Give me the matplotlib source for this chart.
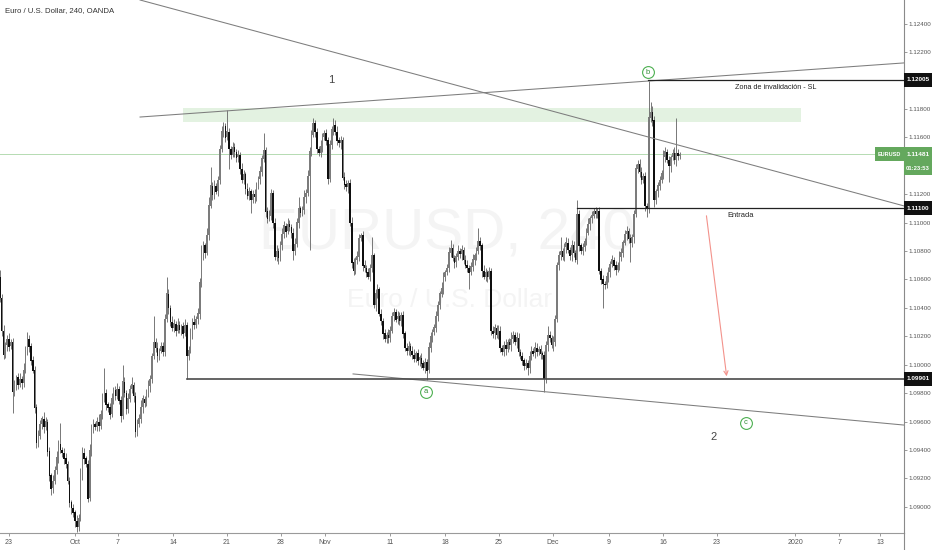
import numpy as np
import matplotlib.pyplot as plt
from matplotlib.patches import Rectangle, FancyArrowPatch

plt.rcParams['font.family'] = ['Liberation Sans', 'DejaVu Sans']

# --- EURUSD 4h velas, en pips sobre 1.08000 ---
BASE = 1.08
FIRST_BAR = -5          # indice de la primera vela (0 = lunes 23 sep)
FIRST_OPEN = 262
CLOSE_PIPS = [
    247, 224, 207, 214, 218, 213, 216, 181, 186, 191,
    186, 190, 187, 196, 210, 218, 213, 203, 196, 170,
    145, 150, 158, 162, 156, 160, 139, 122, 113, 118,
    126, 135, 144, 140, 138, 134, 130, 118, 103, 99,
    96, 90, 86, 92, 122, 138, 134, 130, 106, 140,
    155, 158, 156, 160, 157, 165, 176, 180, 172, 170,
    165, 176, 182, 178, 183, 175, 164, 188, 180, 169,
    176, 183, 186, 178, 153, 158, 162, 170, 176, 173,
    180, 185, 190, 206, 216, 212, 206, 210, 213, 209,
    232, 250, 240, 230, 226, 229, 224, 228, 225, 227,
    222, 228, 206, 210, 222, 230, 228, 232, 236, 258,
    280, 284, 279, 291, 312, 326, 320, 326, 322, 330,
    352, 364, 368, 360, 364, 352, 348, 353, 350, 346,
    348, 338, 330, 334, 324, 319, 322, 316, 320, 318,
    326, 331, 336, 345, 351, 308, 303, 305, 321, 300,
    276, 280, 275, 284, 292, 298, 294, 299, 297, 293,
    280, 285, 300, 310, 307, 309, 318, 321, 333, 350,
    362, 370, 364, 352, 349, 354, 360, 363, 358, 331,
    355, 366, 369, 364, 358, 356, 358, 332, 327, 325,
    328, 300, 272, 266, 274, 276, 289, 291, 270, 268,
    265, 262, 268, 277, 242, 250, 253, 236, 231, 222,
    218, 221, 219, 224, 234, 237, 232, 234, 231, 235,
    222, 212, 210, 213, 210, 207, 204, 208, 203, 205,
    201, 198, 202, 196, 212, 220, 223, 226, 234, 242,
    250, 254, 262, 265, 268, 279, 282, 275, 272, 276,
    280, 278, 281, 274, 270, 268, 265, 269, 274, 277,
    280, 287, 284, 266, 262, 265, 262, 266, 224, 222,
    226, 221, 224, 212, 209, 214, 211, 216, 214, 218,
    221, 216, 219, 209, 206, 203, 199, 201, 198, 206,
    210, 208, 212, 209, 211, 208, 207, 190, 214, 221,
    219, 214, 216, 232, 270, 277, 280, 276, 283, 286,
    281, 277, 284, 279, 274, 306, 284, 280, 283, 287,
    293, 299, 303, 305, 308, 306, 308, 266, 260, 257,
    256, 262, 265, 271, 274, 270, 267, 270, 276, 279,
    286, 292, 294, 289, 286, 290, 306, 338, 341, 336,
    330, 333, 312, 310, 374, 378, 372, 316, 322, 326,
    330, 335, 346, 350, 344, 340, 346, 349, 344, 349, 347, 348,
]
WICK_UP = [
    5, 3, 4, 2, 3, 4, 2, 3, 3, 2,
    3, 4, 2, 5, 3, 5, 3, 2, 3, 3,
    2, 4, 3, 2, 5, 3, 2, 3, 2, 4,
    3, 4, 3, 15, 2, 3, 4, 2, 3, 2,
    3, 2, 4, 3, 5, 4, 3, 2, 3, 4,
    3, 4, 2, 3, 5, 3, 4, 18, 3, 2,
    3, 4, 2, 3, 4, 2, 3, 12, 3, 2,
    4, 3, 5, 2, 3, 4, 3, 5, 3, 2,
    3, 4, 3, 2, 18, 3, 4, 2, 3, 3,
    4, 12, 3, 2, 4, 3, 2, 5, 3, 2,
    3, 4, 2, 3, 4, 3, 5, 2, 4, 3,
    4, 3, 2, 5, 6, 13, 3, 4, 2, 3,
    3, 4, 3, 2, 15, 3, 2, 4, 3, 2,
    3, 2, 4, 3, 2, 4, 3, 2, 3, 4,
    3, 2, 4, 3, 12, 2, 3, 4, 3, 2,
    3, 4, 2, 3, 4, 3, 2, 4, 3, 2,
    3, 4, 3, 8, 2, 3, 5, 3, 4, 3,
    3, 4, 2, 3, 2, 4, 3, 2, 3, 2,
    3, 2, 5, 3, 4, 2, 3, 2, 4, 3,
    2, 3, 4, 3, 2, 4, 3, 2, 3, 4,
    2, 3, 3, 13, 2, 3, 4, 2, 3, 2,
    3, 2, 4, 3, 3, 3, 2, 4, 3, 2,
    3, 2, 3, 4, 2, 3, 4, 2, 3, 2,
    3, 2, 3, 2, 4, 3, 2, 3, 4, 3,
    2, 4, 3, 2, 3, 4, 6, 3, 2, 3,
    4, 2, 3, 2, 3, 4, 2, 3, 4, 2,
    3, 9, 3, 2, 4, 3, 2, 3, 2, 3,
    3, 2, 4, 3, 2, 3, 4, 2, 3, 5,
    3, 2, 4, 3, 2, 3, 2, 3, 2, 4,
    3, 2, 4, 3, 2, 3, 2, 3, 3, 6,
    3, 2, 4, 3, 2, 3, 10, 2, 3, 4,
    3, 2, 4, 3, 2, 10, 3, 2, 3, 2,
    3, 4, 2, 3, 2, 3, 2, 3, 2, 3,
    2, 3, 4, 2, 3, 2, 3, 2, 4, 3,
    2, 3, 4, 2, 3, 2, 3, 3, 3, 4,
    3, 2, 3, 2, 26, 7, 4, 3, 2, 3,
    3, 2, 5, 3, 2, 3, 2, 3, 4, 25, 3, 2,
]
WICK_DN = [
    3, 4, 3, 2, 4, 3, 2, 15, 3, 4,
    3, 2, 4, 3, 2, 3, 4, 3, 2, 4,
    4, 3, 2, 3, 4, 2, 3, 4, 5, 3,
    2, 3, 4, 2, 3, 4, 3, 2, 3, 4,
    3, 4, 4, 3, 2, 3, 4, 2, 3, 2,
    4, 3, 2, 3, 4, 2, 3, 2, 4, 3,
    3, 2, 4, 3, 2, 3, 4, 2, 3, 4,
    3, 2, 3, 4, 4, 3, 2, 3, 4, 3,
    2, 3, 4, 3, 2, 3, 4, 3, 2, 3,
    3, 2, 4, 3, 2, 3, 4, 2, 3, 4,
    3, 2, 16, 3, 2, 4, 3, 2, 3, 4,
    3, 6, 4, 2, 3, 2, 4, 3, 2, 3,
    3, 2, 4, 3, 2, 14, 3, 2, 4, 3,
    3, 4, 2, 3, 4, 2, 3, 9, 2, 4,
    3, 2, 4, 3, 2, 4, 3, 2, 3, 4,
    2, 3, 4, 2, 3, 3, 4, 2, 3, 4,
    6, 3, 2, 4, 3, 2, 3, 4, 2, 52,
    3, 2, 4, 3, 2, 3, 4, 2, 3, 4,
    2, 3, 4, 2, 3, 3, 4, 2, 3, 3,
    4, 2, 4, 3, 2, 3, 3, 2, 4, 3,
    3, 2, 3, 3, 2, 4, 3, 2, 3, 4,
    2, 3, 4, 3, 2, 3, 2, 3, 3, 4,
    3, 2, 3, 3, 4, 3, 2, 2, 3, 4,
    3, 2, 4, 7, 2, 3, 4, 2, 3, 3,
    3, 2, 4, 3, 2, 3, 3, 2, 4, 3,
    2, 3, 4, 3, 2, 3, 12, 2, 3, 4,
    3, 2, 3, 4, 2, 3, 4, 2, 3, 3,
    4, 2, 3, 3, 2, 3, 4, 2, 3, 4,
    3, 2, 4, 3, 2, 3, 3, 2, 5, 4,
    3, 2, 3, 3, 2, 4, 3, 9, 3, 4,
    3, 2, 4, 3, 2, 3, 3, 2, 3, 4,
    2, 3, 4, 3, 2, 3, 4, 2, 3, 3,
    3, 2, 4, 3, 2, 3, 3, 2, 3, 17,
    3, 2, 4, 3, 2, 3, 4, 2, 3, 3,
    3, 2, 4, 3, 14, 3, 4, 2, 3, 4,
    3, 2, 4, 6, 3, 3, 4, 5, 3, 4,
    3, 2, 4, 3, 2, 11, 4, 2, 3, 4, 3, 2,
]

PRICE_TICKS = [1.124, 1.122, 1.118, 1.116, 1.112, 1.110, 1.108, 1.106, 1.104,
               1.102, 1.100, 1.098, 1.096, 1.094, 1.092, 1.090]
DATE_LABELS = ["23", "Oct", "7", "14", "21", "28", "Nov", "11", "18", "25",
               "Dec", "9", "16", "23", "2020", "7", "13"]
DATE_BARS = [0, 36, 59.5, 89.5, 118.9, 148.2, 172.4, 207.9, 237.9, 267.3,
             296.8, 327.3, 356.8, 386.3, 428.9, 452.9, 475.2]

SL_LEVEL = 1.12005
ENTRY_LEVEL = 1.11100
TARGET_LEVEL = 1.09901
LAST_PRICE = 1.11481

# dibujos (indice de vela, precio)
DESC_LINE = [(71.5, 1.12568), (488.3, 1.11118)]
UPPER_LINE = [(71.5, 1.11744), (488.3, 1.12125)]
LOWER_LINE = [(187.7, 1.09935), (488.3, 1.09575)]
ZONE = (94.9, 432.1, 1.11709, 1.11808)
ARROW = [(380.3, 1.11068), (391.7, 1.09899)]

# --- figura ---
W, H = 932, 550
AX_W, AX_H = 904, 533
fig = plt.figure(figsize=(W / 100, H / 100), dpi=100)
ax = fig.add_axes([0, (H - AX_H) / H, AX_W / W, AX_H / H])
ax.set_xlim(-9 / 1.833, (AX_W - 9) / 1.833)
ax.set_ylim(1.08815, 1.12568)
px = (1.12568 - 1.08815) / AX_H   # precio por pixel

# marca de agua
ax.text(0.494, 0.56, "EURUSD, 240", transform=ax.transAxes, ha='center', va='center',
        fontsize=42, color='#f4f4f4', zorder=0)
ax.text(0.497, 0.437, "Euro / U.S. Dollar", transform=ax.transAxes, ha='center',
        va='center', fontsize=19, color='#f4f4f4', zorder=0)

# zona verde
ax.add_patch(Rectangle((ZONE[0], ZONE[2]), ZONE[1] - ZONE[0], ZONE[3] - ZONE[2],
                       facecolor='#e3f2e1', edgecolor='none', zorder=1))
ax.axhline(LAST_PRICE, color='#b5dbb2', lw=0.7, zorder=1)

# velas
closes = BASE + np.array(CLOSE_PIPS) / 1e4
opens = np.r_[BASE + FIRST_OPEN / 1e4, closes[:-1]]
highs = np.maximum(opens, closes) + np.array(WICK_UP) / 1e4
lows = np.minimum(opens, closes) - np.array(WICK_DN) / 1e4
x = np.arange(len(closes)) + FIRST_BAR
up = closes >= opens
ax.vlines(x, lows, highs, color='#6e6e6e', lw=0.65, zorder=3)
ax.bar(x[up], (closes - opens)[up] + 0.3 * px, bottom=opens[up], width=0.85,
       color='#7c7c7c', lw=0, zorder=4)
ax.bar(x[~up], (closes - opens)[~up] - 0.3 * px, bottom=opens[~up], width=0.85,
       color='#0f0f0f', lw=0, zorder=4)

# lineas de tendencia
for ln in (DESC_LINE, UPPER_LINE, LOWER_LINE):
    ax.plot([ln[0][0], ln[1][0]], [ln[0][1], ln[1][1]], color='#7d7d7d', lw=0.75, zorder=5)
ax.plot([97.1, 490], [TARGET_LEVEL] * 2, color='#4a4a4a', lw=1.2, zorder=5)
ax.plot([348.6, 490], [SL_LEVEL] * 2, color='#222222', lw=0.9, zorder=5)
ax.plot([309.9, 490], [ENTRY_LEVEL] * 2, color='#222222', lw=0.9, zorder=5)
ax.add_patch(FancyArrowPatch(ARROW[0], ARROW[1], arrowstyle='->,head_length=3,head_width=1.5',
                             color='#f3928b', lw=0.8, zorder=5))

# textos
ax.text(175.7, 1.12005, "1", fontsize=8, color='#444444', ha='center', va='center')
ax.text(384.6, 1.09491, "2", fontsize=8, color='#444444', ha='center', va='center')
ax.text(418.4, 1.11955, "Zona de invalidación - SL", fontsize=5.2, color='#222222',
        ha='center', va='center')
ax.text(399.3, 1.11053, "Entrada", fontsize=5.4, color='#222222', ha='center', va='center')
for lbl, bx, by in (("b", 348.6, 1.12058), ("a", 227.5, 1.09808), ("c", 402.0, 1.09590)):
    ax.plot(bx, by, 'o', ms=8.5, mfc='white', mec='#4caf50', mew=0.8, zorder=6)
    ax.text(bx, by, lbl, fontsize=5.4, color='#2e8b32', ha='center', va='center', zorder=7)

# ejes
for s in ('top', 'left'):
    ax.spines[s].set_visible(False)
ax.spines['bottom'].set_color('#9a9a9a')
ax.spines['bottom'].set_linewidth(0.8)
ax.spines['right'].set_color('#8a8a8a')
ax.spines['right'].set_linewidth(0.8)
ax.yaxis.tick_right()
ax.set_yticks(PRICE_TICKS, [f"{v:.5f}" for v in PRICE_TICKS])
ax.set_xticks(DATE_BARS, DATE_LABELS)
ax.tick_params(axis='y', length=2, width=0.6, color='#8a8a8a', labelsize=4.5,
               labelcolor='#555555', pad=1)
ax.tick_params(axis='x', length=2.5, width=0.6, color='#8a8a8a', labelsize=5.0,
               labelcolor='#555555', pad=2)
fig.add_artist(plt.Line2D([AX_W / W] * 2, [0, (H - AX_H) / H], color='#8a8a8a', lw=0.8))

# etiquetas de precio
ytr = ax.get_yaxis_transform()
box_h = 14 * px


def tag(y, text, color, x0=1.0, x1=W / AX_W, size=4.6):
    ax.add_patch(Rectangle((x0, y - box_h / 2), x1 - x0, box_h, transform=ytr,
                           facecolor=color, edgecolor='none', clip_on=False, zorder=8))
    ax.text((x0 + x1) / 2, y, text, transform=ytr, ha='center', va='center',
            color='white', fontsize=size, fontweight='bold', clip_on=False, zorder=9)


tag(SL_LEVEL, "1.12005", '#111111')
tag(ENTRY_LEVEL, "1.11100", '#111111')
tag(TARGET_LEVEL, "1.09901", '#111111')
tag(LAST_PRICE, "1.11481", '#64a85d')
tag(LAST_PRICE - 14 * px, "01:23:53", '#64a85d', size=4.2)
tag(LAST_PRICE, "EURUSD", '#64a85d', x0=875 / AX_W, x1=1.0, size=4.0)

fig.text(5 / W, 1 - 11 / H, "Euro / U.S. Dollar, 240, OANDA", fontsize=5.6,
         color='#333333', va='center')

fig.savefig("out.png", dpi=100)
